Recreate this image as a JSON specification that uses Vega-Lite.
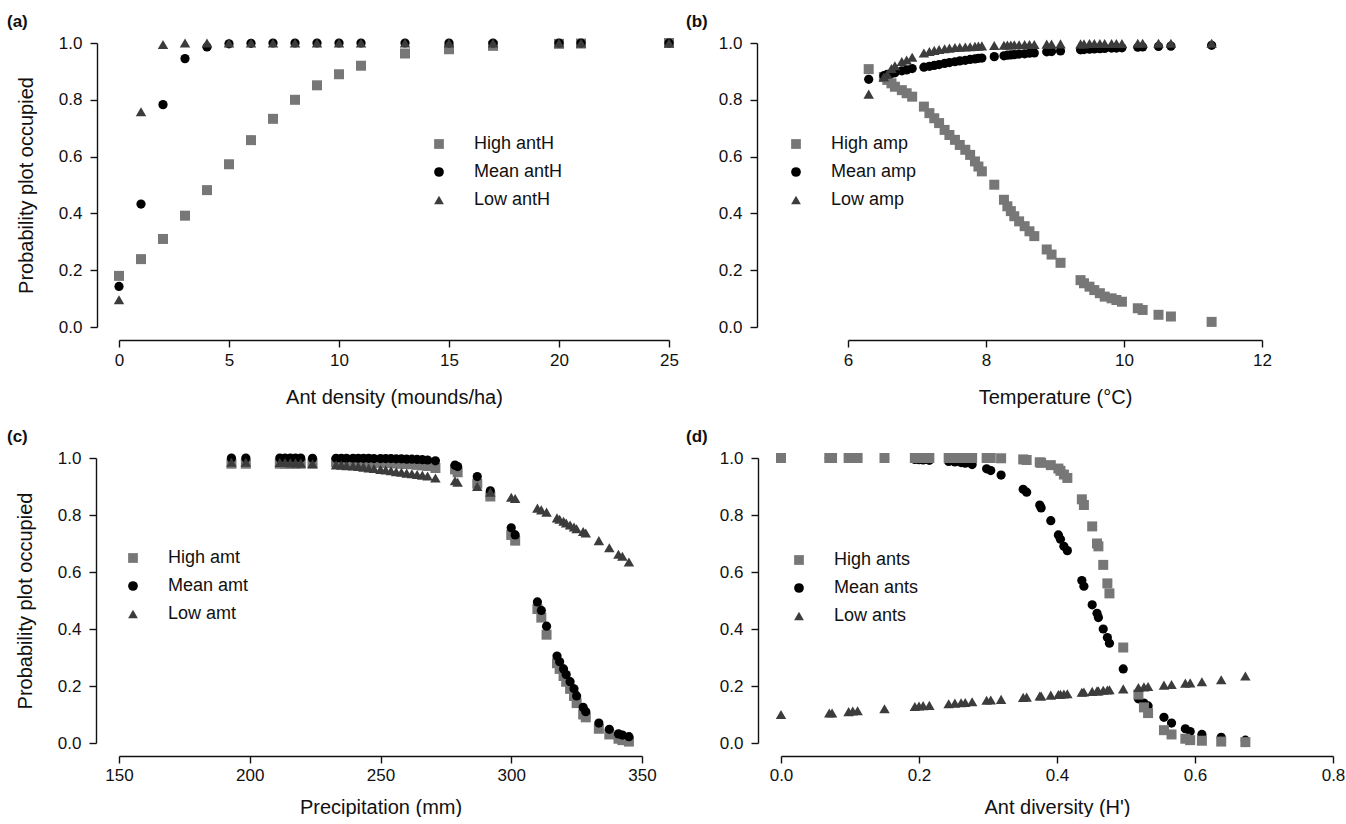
{
 "$schema": "https://vega.github.io/schema/vega-lite/v6.json",
 "padding": {"left": 7, "top": 13, "right": 0, "bottom": 0},
 "background": "white",
 "config": {
   "font": "Liberation Sans",
   "view": {"stroke": null},
   "axis": {"grid": false, "domainColor": "#111111", "domainWidth": 1.4, "tickColor": "#111111", "tickWidth": 1.4, "tickSize": 7, "labelFontSize": 17, "labelColor": "#111111", "titleFontSize": 20, "titleFontWeight": "normal", "titleColor": "#111111", "labelFont": "Liberation Sans", "titleFont": "Liberation Sans"},
   "axisX": {"offset": 13, "labelPadding": 5, "titlePadding": 19},
   "axisY": {"labelPadding": 8, "titlePadding": 22},
   "legend": {"labelFontSize": 18, "symbolSize": 95, "rowPadding": 10, "labelOffset": 26, "padding": 0, "labelColor": "#111111", "symbolStrokeWidth": 0},
   "title": {"fontSize": 17, "fontWeight": "bold", "anchor": "start", "frame": "group", "offset": 3, "color": "#111111"}
 },
 "datasets": {
   "a": [
     {"x": 0, "High": 0.18, "Mean": 0.143, "Low": 0.096},
     {"x": 1, "High": 0.239, "Mean": 0.433, "Low": 0.758},
     {"x": 2, "High": 0.31, "Mean": 0.783, "Low": 0.995},
     {"x": 3, "High": 0.392, "Mean": 0.945, "Low": 1.0},
     {"x": 4, "High": 0.482, "Mean": 0.986, "Low": 1.0},
     {"x": 5, "High": 0.573, "Mean": 0.997, "Low": 1.0},
     {"x": 6, "High": 0.658, "Mean": 0.999, "Low": 1.0},
     {"x": 7, "High": 0.733, "Mean": 1.0, "Low": 1.0},
     {"x": 8, "High": 0.8, "Mean": 1.0, "Low": 1.0},
     {"x": 9, "High": 0.851, "Mean": 1.0, "Low": 1.0},
     {"x": 10, "High": 0.89, "Mean": 1.0, "Low": 1.0},
     {"x": 11, "High": 0.92, "Mean": 1.0, "Low": 1.0},
     {"x": 13, "High": 0.963, "Mean": 1.0, "Low": 1.0},
     {"x": 15, "High": 0.978, "Mean": 1.0, "Low": 1.0},
     {"x": 17, "High": 0.99, "Mean": 1.0, "Low": 1.0},
     {"x": 20, "High": 0.997, "Mean": 1.0, "Low": 1.0},
     {"x": 21, "High": 0.998, "Mean": 1.0, "Low": 1.0},
     {"x": 25, "High": 1.0, "Mean": 1.0, "Low": 1.0}
   ],
   "b": [
     {"x": 6.30, "High": 0.908, "Mean": 0.872, "Low": 0.82},
     {"x": 6.52, "High": 0.88, "Mean": 0.885, "Low": 0.88},
     {"x": 6.57, "High": 0.87, "Mean": 0.89, "Low": 0.89},
     {"x": 6.63, "High": 0.858, "Mean": 0.893, "Low": 0.91},
     {"x": 6.68, "High": 0.846, "Mean": 0.895, "Low": 0.92},
     {"x": 6.78, "High": 0.834, "Mean": 0.902, "Low": 0.935},
     {"x": 6.85, "High": 0.823, "Mean": 0.905, "Low": 0.94},
     {"x": 6.93, "High": 0.811, "Mean": 0.91, "Low": 0.95},
     {"x": 7.10, "High": 0.776, "Mean": 0.915, "Low": 0.965},
     {"x": 7.18, "High": 0.753, "Mean": 0.918, "Low": 0.97},
     {"x": 7.25, "High": 0.735, "Mean": 0.921, "Low": 0.974},
     {"x": 7.32, "High": 0.718, "Mean": 0.924, "Low": 0.977},
     {"x": 7.40, "High": 0.694, "Mean": 0.928, "Low": 0.98},
     {"x": 7.47, "High": 0.676, "Mean": 0.931, "Low": 0.982},
     {"x": 7.55, "High": 0.659, "Mean": 0.934, "Low": 0.984},
     {"x": 7.62, "High": 0.641, "Mean": 0.937, "Low": 0.985},
     {"x": 7.70, "High": 0.624, "Mean": 0.939, "Low": 0.986},
     {"x": 7.77, "High": 0.606, "Mean": 0.942, "Low": 0.987},
     {"x": 7.84, "High": 0.583, "Mean": 0.944, "Low": 0.988},
     {"x": 7.89, "High": 0.565, "Mean": 0.946, "Low": 0.989},
     {"x": 7.94, "High": 0.548, "Mean": 0.947, "Low": 0.99},
     {"x": 8.12, "High": 0.501, "Mean": 0.952, "Low": 0.991},
     {"x": 8.26, "High": 0.448, "Mean": 0.955, "Low": 0.992},
     {"x": 8.31, "High": 0.425, "Mean": 0.957, "Low": 0.993},
     {"x": 8.36, "High": 0.408, "Mean": 0.958, "Low": 0.993},
     {"x": 8.41, "High": 0.39, "Mean": 0.959, "Low": 0.994},
     {"x": 8.48, "High": 0.372, "Mean": 0.961, "Low": 0.994},
     {"x": 8.56, "High": 0.355, "Mean": 0.962, "Low": 0.995},
     {"x": 8.63, "High": 0.337, "Mean": 0.964, "Low": 0.995},
     {"x": 8.70, "High": 0.32, "Mean": 0.965, "Low": 0.995},
     {"x": 8.88, "High": 0.273, "Mean": 0.969, "Low": 0.996},
     {"x": 8.95, "High": 0.255, "Mean": 0.97, "Low": 0.996},
     {"x": 9.08, "High": 0.226, "Mean": 0.972, "Low": 0.997},
     {"x": 9.37, "High": 0.165, "Mean": 0.976, "Low": 0.997},
     {"x": 9.42, "High": 0.154, "Mean": 0.977, "Low": 0.997},
     {"x": 9.50, "High": 0.142, "Mean": 0.978, "Low": 0.998},
     {"x": 9.57, "High": 0.13, "Mean": 0.979, "Low": 0.998},
     {"x": 9.65, "High": 0.119, "Mean": 0.98, "Low": 0.998},
     {"x": 9.72, "High": 0.107, "Mean": 0.981, "Low": 0.998},
     {"x": 9.82, "High": 0.101, "Mean": 0.982, "Low": 0.998},
     {"x": 9.89, "High": 0.095, "Mean": 0.982, "Low": 0.998},
     {"x": 9.97, "High": 0.089, "Mean": 0.983, "Low": 0.998},
     {"x": 10.20, "High": 0.066, "Mean": 0.985, "Low": 0.999},
     {"x": 10.27, "High": 0.06, "Mean": 0.986, "Low": 0.999},
     {"x": 10.50, "High": 0.043, "Mean": 0.988, "Low": 0.999},
     {"x": 10.68, "High": 0.037, "Mean": 0.989, "Low": 0.999},
     {"x": 11.27, "High": 0.018, "Mean": 0.992, "Low": 0.999}
   ],
   "c": [
     {"x": 193, "High": 0.98, "Mean": 1.0, "Low": 0.985},
     {"x": 198.5, "High": 0.98, "Mean": 1.0, "Low": 0.985},
     {"x": 211.5, "High": 0.98, "Mean": 1.0, "Low": 0.984},
     {"x": 213.5, "High": 0.98, "Mean": 1.0, "Low": 0.984},
     {"x": 215.5, "High": 0.98, "Mean": 1.0, "Low": 0.983},
     {"x": 217.5, "High": 0.98, "Mean": 1.0, "Low": 0.983},
     {"x": 219.5, "High": 0.98, "Mean": 1.0, "Low": 0.982},
     {"x": 224, "High": 0.98, "Mean": 0.999, "Low": 0.98},
     {"x": 233, "High": 0.985, "Mean": 0.999, "Low": 0.976},
     {"x": 235, "High": 0.985, "Mean": 0.999, "Low": 0.975},
     {"x": 237, "High": 0.985, "Mean": 0.999, "Low": 0.973},
     {"x": 239.5, "High": 0.985, "Mean": 0.999, "Low": 0.972},
     {"x": 241.5, "High": 0.985, "Mean": 0.999, "Low": 0.97},
     {"x": 243.5, "High": 0.985, "Mean": 0.999, "Low": 0.968},
     {"x": 245.5, "High": 0.984, "Mean": 0.999, "Low": 0.965},
     {"x": 247.5, "High": 0.984, "Mean": 0.998, "Low": 0.963},
     {"x": 250, "High": 0.983, "Mean": 0.998, "Low": 0.96},
     {"x": 252, "High": 0.983, "Mean": 0.998, "Low": 0.958},
     {"x": 254, "High": 0.982, "Mean": 0.998, "Low": 0.955},
     {"x": 256, "High": 0.981, "Mean": 0.997, "Low": 0.952},
     {"x": 258, "High": 0.98, "Mean": 0.997, "Low": 0.95},
     {"x": 260, "High": 0.979, "Mean": 0.996, "Low": 0.947},
     {"x": 262, "High": 0.978, "Mean": 0.996, "Low": 0.945},
     {"x": 264, "High": 0.976, "Mean": 0.995, "Low": 0.942},
     {"x": 266, "High": 0.974, "Mean": 0.994, "Low": 0.94},
     {"x": 268, "High": 0.972, "Mean": 0.993, "Low": 0.937},
     {"x": 271, "High": 0.965, "Mean": 0.99, "Low": 0.93},
     {"x": 278.5, "High": 0.96, "Mean": 0.975, "Low": 0.92},
     {"x": 279.5, "High": 0.95, "Mean": 0.97, "Low": 0.915},
     {"x": 287, "High": 0.91, "Mean": 0.935, "Low": 0.9},
     {"x": 292, "High": 0.865, "Mean": 0.885, "Low": 0.88},
     {"x": 300, "High": 0.73, "Mean": 0.755, "Low": 0.862},
     {"x": 301.5, "High": 0.71, "Mean": 0.73, "Low": 0.858},
     {"x": 310, "High": 0.47, "Mean": 0.495, "Low": 0.824},
     {"x": 311.5, "High": 0.44, "Mean": 0.465, "Low": 0.818},
     {"x": 313.5, "High": 0.38, "Mean": 0.41, "Low": 0.81},
     {"x": 317.5, "High": 0.28, "Mean": 0.305, "Low": 0.79},
     {"x": 318.5, "High": 0.26, "Mean": 0.285, "Low": 0.785},
     {"x": 320, "High": 0.235, "Mean": 0.26, "Low": 0.778},
     {"x": 321, "High": 0.215, "Mean": 0.24, "Low": 0.772},
     {"x": 322.5, "High": 0.19, "Mean": 0.215, "Low": 0.765},
     {"x": 324, "High": 0.165, "Mean": 0.19, "Low": 0.758},
     {"x": 325, "High": 0.14, "Mean": 0.165, "Low": 0.752},
     {"x": 327.5, "High": 0.1, "Mean": 0.125, "Low": 0.742},
     {"x": 328.5, "High": 0.09, "Mean": 0.11, "Low": 0.737},
     {"x": 333.5, "High": 0.05, "Mean": 0.07, "Low": 0.71},
     {"x": 337.5, "High": 0.03, "Mean": 0.048, "Low": 0.685},
     {"x": 341, "High": 0.015, "Mean": 0.032, "Low": 0.662},
     {"x": 342.5, "High": 0.01, "Mean": 0.028, "Low": 0.655},
     {"x": 345, "High": 0.005, "Mean": 0.022, "Low": 0.635}
   ],
   "d": [
     {"x": 0, "High": 1.0, "Mean": 1.0, "Low": 0.1},
     {"x": 0.07, "High": 1.0, "Mean": 1.0, "Low": 0.105},
     {"x": 0.074, "High": 1.0, "Mean": 1.0, "Low": 0.105},
     {"x": 0.098, "High": 1.0, "Mean": 1.0, "Low": 0.11},
     {"x": 0.104, "High": 1.0, "Mean": 1.0, "Low": 0.112},
     {"x": 0.111, "High": 1.0, "Mean": 1.0, "Low": 0.113},
     {"x": 0.15, "High": 1.0, "Mean": 1.0, "Low": 0.12},
     {"x": 0.194, "High": 1.0, "Mean": 0.995, "Low": 0.128},
     {"x": 0.2, "High": 1.0, "Mean": 0.994, "Low": 0.13},
     {"x": 0.206, "High": 1.0, "Mean": 0.993, "Low": 0.131},
     {"x": 0.215, "High": 1.0, "Mean": 0.992, "Low": 0.132},
     {"x": 0.243, "High": 1.0, "Mean": 0.988, "Low": 0.138},
     {"x": 0.252, "High": 1.0, "Mean": 0.986, "Low": 0.14},
     {"x": 0.261, "High": 1.0, "Mean": 0.984, "Low": 0.141},
     {"x": 0.267, "High": 1.0, "Mean": 0.982, "Low": 0.142},
     {"x": 0.277, "High": 1.0, "Mean": 0.977, "Low": 0.145},
     {"x": 0.298, "High": 1.0, "Mean": 0.962, "Low": 0.15},
     {"x": 0.304, "High": 1.0, "Mean": 0.956, "Low": 0.151},
     {"x": 0.319, "High": 0.999, "Mean": 0.94, "Low": 0.153},
     {"x": 0.351, "High": 0.995, "Mean": 0.89, "Low": 0.16},
     {"x": 0.356, "High": 0.993, "Mean": 0.88, "Low": 0.161},
     {"x": 0.375, "High": 0.985, "Mean": 0.835, "Low": 0.165},
     {"x": 0.377, "High": 0.983, "Mean": 0.825, "Low": 0.165},
     {"x": 0.391, "High": 0.975, "Mean": 0.78, "Low": 0.168},
     {"x": 0.402, "High": 0.963, "Mean": 0.73, "Low": 0.17},
     {"x": 0.405, "High": 0.955, "Mean": 0.715, "Low": 0.171},
     {"x": 0.41, "High": 0.942, "Mean": 0.69, "Low": 0.172},
     {"x": 0.415, "High": 0.93, "Mean": 0.675, "Low": 0.173},
     {"x": 0.436, "High": 0.855, "Mean": 0.57, "Low": 0.178},
     {"x": 0.439, "High": 0.835, "Mean": 0.55, "Low": 0.179},
     {"x": 0.451, "High": 0.76, "Mean": 0.485, "Low": 0.181},
     {"x": 0.458, "High": 0.7, "Mean": 0.455, "Low": 0.183},
     {"x": 0.46, "High": 0.69, "Mean": 0.44, "Low": 0.183},
     {"x": 0.467, "High": 0.625, "Mean": 0.4, "Low": 0.185},
     {"x": 0.473, "High": 0.56, "Mean": 0.37, "Low": 0.186},
     {"x": 0.476, "High": 0.525, "Mean": 0.35, "Low": 0.187},
     {"x": 0.496, "High": 0.335, "Mean": 0.26, "Low": 0.19},
     {"x": 0.518, "High": 0.17, "Mean": 0.155, "Low": 0.195},
     {"x": 0.526, "High": 0.125, "Mean": 0.14, "Low": 0.197},
     {"x": 0.532, "High": 0.105, "Mean": 0.13, "Low": 0.198},
     {"x": 0.555, "High": 0.045, "Mean": 0.09, "Low": 0.203},
     {"x": 0.566, "High": 0.03, "Mean": 0.07, "Low": 0.205},
     {"x": 0.586, "High": 0.015, "Mean": 0.05, "Low": 0.21},
     {"x": 0.593, "High": 0.01, "Mean": 0.04, "Low": 0.211},
     {"x": 0.61, "High": 0.008, "Mean": 0.03, "Low": 0.215},
     {"x": 0.638, "High": 0.005, "Mean": 0.02, "Low": 0.222},
     {"x": 0.673, "High": 0.003, "Mean": 0.01, "Low": 0.235}
   ]
 },
 "spacing": 21,
 "resolve": {"scale": {"color": "independent", "shape": "independent"}},
 "vconcat": [
   {
     "spacing": 7,
     "resolve": {"scale": {"color": "independent", "shape": "independent"}},
     "hconcat": [
       {
         "width": 550, "height": 284,
         "data": {"name": "a"},
         "title": {"text": "(a)", "dx": -112},
         "encoding": {
           "x": {"field": "x", "type": "quantitative", "scale": {"domain": [0, 25], "nice": false, "zero": false}, "axis": {"values": [0, 5, 10, 15, 20, 25], "labelFlush": false, "title": "Ant density (mounds/ha)"}},
           "y": {"field": "value", "type": "quantitative", "scale": {"domain": [0, 1], "nice": false}, "axis": {"values": [0, 0.2, 0.4, 0.6, 0.8, 1], "format": ".1f", "offset": 22, "title": "Probability plot occupied"}},
           "color": {"field": "key", "type": "nominal", "scale": {"domain": ["High", "Mean", "Low"], "range": ["#777777", "#000000", "#3c3c3c"]}, "legend": {"orient": "none", "legendX": 311, "legendY": 92, "title": null, "labelExpr": "datum.label + ' antH'"}},
           "shape": {"field": "key", "type": "nominal", "scale": {"domain": ["High", "Mean", "Low"], "range": ["square", "circle", "triangle-up"]}, "legend": {"orient": "none", "legendX": 311, "legendY": 92, "title": null, "labelExpr": "datum.label + ' antH'"}}
         },
         "layer": [
           {"transform": [{"fold": ["High"]}], "mark": {"type": "point", "filled": true, "opacity": 1, "size": 100}},
           {"transform": [{"fold": ["Mean"]}], "mark": {"type": "point", "filled": true, "opacity": 1, "size": 85}},
           {"transform": [{"fold": ["Low"]}], "mark": {"type": "point", "filled": true, "opacity": 1, "size": 110}}
         ]
       },
       {
         "width": 414, "height": 284,
         "data": {"name": "b"},
         "title": {"text": "(b)", "dx": -162},
         "encoding": {
           "x": {"field": "x", "type": "quantitative", "scale": {"domain": [6, 12], "nice": false, "zero": false}, "axis": {"values": [6, 8, 10, 12], "labelFlush": false, "title": "Temperature (°C)"}},
           "y": {"field": "value", "type": "quantitative", "scale": {"domain": [0, 1], "nice": false}, "axis": {"values": [0, 0.2, 0.4, 0.6, 0.8, 1], "format": ".1f", "offset": 91, "title": null}},
           "color": {"field": "key", "type": "nominal", "scale": {"domain": ["High", "Mean", "Low"], "range": ["#777777", "#000000", "#3c3c3c"]}, "legend": {"orient": "none", "legendX": -61, "legendY": 92, "title": null, "labelExpr": "datum.label + ' amp'"}},
           "shape": {"field": "key", "type": "nominal", "scale": {"domain": ["High", "Mean", "Low"], "range": ["square", "circle", "triangle-up"]}, "legend": {"orient": "none", "legendX": -61, "legendY": 92, "title": null, "labelExpr": "datum.label + ' amp'"}}
         },
         "layer": [
           {"transform": [{"fold": ["High"]}], "mark": {"type": "point", "filled": true, "opacity": 1, "size": 100}},
           {"transform": [{"fold": ["Mean"]}], "mark": {"type": "point", "filled": true, "opacity": 1, "size": 85}},
           {"transform": [{"fold": ["Low"]}], "mark": {"type": "point", "filled": true, "opacity": 1, "size": 110}}
         ]
       }
     ]
   },
   {
     "spacing": 29,
     "resolve": {"scale": {"color": "independent", "shape": "independent"}},
     "hconcat": [
       {
         "width": 523, "height": 285,
         "data": {"name": "c"},
         "title": {"text": "(c)", "dx": -112},
         "encoding": {
           "x": {"field": "x", "type": "quantitative", "scale": {"domain": [150, 350], "nice": false, "zero": false}, "axis": {"values": [150, 200, 250, 300, 350], "labelFlush": false, "title": "Precipitation (mm)", "labelPadding": 4, "titlePadding": 14}},
           "y": {"field": "value", "type": "quantitative", "scale": {"domain": [0, 1], "nice": false}, "axis": {"values": [0, 0.2, 0.4, 0.6, 0.8, 1], "format": ".1f", "offset": 23, "title": "Probability plot occupied"}},
           "color": {"field": "key", "type": "nominal", "scale": {"domain": ["High", "Mean", "Low"], "range": ["#777777", "#000000", "#3c3c3c"]}, "legend": {"orient": "none", "legendX": 5, "legendY": 91, "title": null, "labelExpr": "datum.label + ' amt'"}},
           "shape": {"field": "key", "type": "nominal", "scale": {"domain": ["High", "Mean", "Low"], "range": ["square", "circle", "triangle-up"]}, "legend": {"orient": "none", "legendX": 5, "legendY": 91, "title": null, "labelExpr": "datum.label + ' amt'"}}
         },
         "layer": [
           {"transform": [{"fold": ["High"]}], "mark": {"type": "point", "filled": true, "opacity": 1, "size": 100}},
           {"transform": [{"fold": ["Mean"]}], "mark": {"type": "point", "filled": true, "opacity": 1, "size": 85}},
           {"transform": [{"fold": ["Low"]}], "mark": {"type": "point", "filled": true, "opacity": 1, "size": 110}}
         ]
       },
       {
         "width": 552, "height": 285,
         "data": {"name": "d"},
         "title": {"text": "(d)", "dx": -95},
         "encoding": {
           "x": {"field": "x", "type": "quantitative", "scale": {"domain": [0, 0.8], "nice": false, "zero": false}, "axis": {"values": [0, 0.2, 0.4, 0.6, 0.8], "format": ".1f", "labelFlush": false, "title": "Ant diversity (H')", "labelPadding": 4, "titlePadding": 14}},
           "y": {"field": "value", "type": "quantitative", "scale": {"domain": [0, 1], "nice": false}, "axis": {"values": [0, 0.2, 0.4, 0.6, 0.8, 1], "format": ".1f", "offset": 23, "title": null}},
           "color": {"field": "key", "type": "nominal", "scale": {"domain": ["High", "Mean", "Low"], "range": ["#777777", "#000000", "#3c3c3c"]}, "legend": {"orient": "none", "legendX": 9, "legendY": 93, "title": null, "labelExpr": "datum.label + ' ants'"}},
           "shape": {"field": "key", "type": "nominal", "scale": {"domain": ["High", "Mean", "Low"], "range": ["square", "circle", "triangle-up"]}, "legend": {"orient": "none", "legendX": 9, "legendY": 93, "title": null, "labelExpr": "datum.label + ' ants'"}}
         },
         "layer": [
           {"transform": [{"fold": ["Mean"]}], "mark": {"type": "point", "filled": true, "opacity": 1, "size": 85}},
           {"transform": [{"fold": ["High"]}], "mark": {"type": "point", "filled": true, "opacity": 1, "size": 100}},
           {"transform": [{"fold": ["Low"]}], "mark": {"type": "point", "filled": true, "opacity": 1, "size": 110}}
         ]
       }
     ]
   }
 ]
}
